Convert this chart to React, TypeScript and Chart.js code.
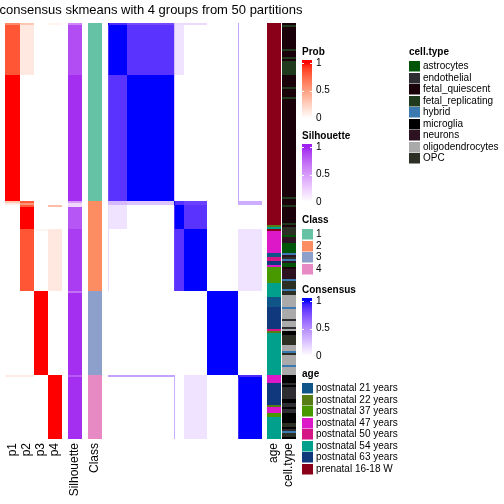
import React, { useEffect, useRef } from "react";
import { Chart, registerables } from "chart.js";

Chart.register(...registerables);

// ---------------- data ----------------
const TITLE = "consensus skmeans with 4 groups from 50 partitions";
const N_SAMPLES = 208;

const classLevels = ["1", "2", "3", "4"];
const classColors = ["#66C2A5", "#FC8D62", "#8DA0CB", "#E78AC3"];
const classSizes = [89, 45, 42, 32];

// [row count, probability] runs, top to bottom
const p1Runs: [number, number][] = [[1, 0.6], [25, 0.82], [63, 1], [1, 0.3], [1, 0.1], [12, 0], [31, 0], [42, 0], [1, 0.1], [31, 0]];
const p2Runs: [number, number][] = [[1, 0.3], [25, 0.12], [63, 0], [1, 0.8], [1, 0.55], [1, 0.8], [11, 1], [31, 0.82], [42, 0], [1, 0.1], [31, 0]];
const p3Runs: [number, number][] = [[103, 0], [1, 0.05], [30, 0], [42, 1], [32, 0]];
const p4Runs: [number, number][] = [[1, 0.06], [88, 0], [2, 0], [1, 0.35], [11, 0], [31, 0.12], [42, 0], [32, 1]];
const silhouetteRuns: [number, number][] = [[1, 0.6], [25, 0.86], [63, 0.96], [1, 0.5], [2, 0.2], [11, 0.82], [31, 0.92], [1, 0.7], [41, 0.96], [1, 0.8], [31, 0.96]];

// consensus: sub-group sizes (rows/cols in same order) and block values
const subgroupSizes = [1, 25, 63, 2, 12, 31, 42, 1, 31];
const consensus = [
  [1.0, 0.9, 0.78, 0.3, 0.15, 0.15, 0.0, 0.4, 0.0],
  [0.9, 1.0, 0.87, 0.3, 0.12, 0.0, 0.0, 0.4, 0.0],
  [0.78, 0.87, 1.0, 0.25, 0.0, 0.0, 0.0, 0.4, 0.0],
  [0.3, 0.3, 0.25, 1.0, 0.88, 0.82, 0.0, 0.4, 0.35],
  [0.15, 0.12, 0.0, 0.88, 1.0, 0.87, 0.0, 0.0, 0.0],
  [0.15, 0.0, 0.0, 0.82, 0.87, 1.0, 0.0, 0.12, 0.12],
  [0.0, 0.0, 0.0, 0.0, 0.0, 0.0, 1.0, 0.0, 0.0],
  [0.4, 0.4, 0.4, 0.4, 0.0, 0.12, 0.0, 1.0, 0.9],
  [0.0, 0.0, 0.0, 0.35, 0.0, 0.12, 0.0, 0.9, 1.0],
];

const ageLevels = [
  "postnatal 21 years",
  "postnatal 22 years",
  "postnatal 37 years",
  "postnatal 47 years",
  "postnatal 50 years",
  "postnatal 54 years",
  "postnatal 63 years",
  "prenatal 16-18 W",
];
const ageColors = ["#0F5587", "#557D14", "#489900", "#DD18C8", "#D51485", "#00A08C", "#0F387D", "#8B0019"];
// [row count, age level index]
const ageRuns: [number, number][] = [
  [101, 7], [1, 1], [1, 5], [1, 7], [11, 3], [2, 0], [2, 4], [2, 6], [1, 3], [8, 2], [7, 5],
  [5, 0], [11, 6], [1, 4], [1, 1], [21, 5], [4, 3], [11, 6], [1, 1], [3, 3], [2, 2], [11, 5],
];

const cellTypeLevels = [
  "astrocytes",
  "endothelial",
  "fetal_quiescent",
  "fetal_replicating",
  "hybrid",
  "microglia",
  "neurons",
  "oligodendrocytes",
  "OPC",
];
const cellTypeColors = ["#005508", "#2E2E32", "#1A0009", "#1F3A1C", "#3A7AB0", "#000000", "#2D1221", "#AAAAAA", "#2C3024"];
// [row count, cell type index]
const cellTypeRuns: [number, number][] = [
  [1, 2], [1, 3], [11, 2], [1, 3], [3, 2], [1, 3], [1, 2], [7, 3], [6, 2], [1, 3], [4, 2], [1, 3],
  [49, 2], [1, 3], [3, 2], [1, 3], [8, 2], [1, 3], [1, 2], [4, 8], [1, 0], [3, 6], [5, 0], [1, 4],
  [1, 6], [1, 8], [1, 4], [1, 6], [2, 0], [1, 2], [5, 6], [1, 4], [4, 8], [1, 4], [2, 8], [6, 7],
  [1, 4], [5, 7], [1, 1], [3, 7], [1, 1], [1, 7], [2, 5], [5, 8], [3, 7], [1, 4], [1, 8], [5, 7],
  [1, 4], [4, 7], [4, 5], [1, 1], [1, 5], [6, 1], [2, 5], [2, 1], [1, 5], [2, 1], [5, 5], [2, 8],
  [1, 5], [1, 1], [1, 4], [2, 8], [1, 5],
];

const leftLabels = ["p1", "p2", "p3", "p4", "Silhouette", "Class"];
const rightLabels = ["age", "cell.type"];
const legendTicks = [0, 0.5, 1];
const legendTickLabels = ["0", "0.5", "1"];

// ---------------- layout / style ----------------
const FONT = "'Liberation Sans', Arial, Helvetica, sans-serif";
const AREA = { left: 108, right: 262, top: 23, bottom: 439 };
const LEFT_COLS: [number, number][] = [[5, 20], [20, 34], [34, 48], [48, 62], [68, 82], [88, 102]];
const RIGHT_COLS: [number, number][] = [[267, 281], [282, 296]];

// ---------------- colours (LAB interpolation from white) ----------------
function hexToRgb(h: string): number[] {
  const s = h.replace("#", "");
  return [0, 2, 4].map((i) => parseInt(s.slice(i, i + 2), 16));
}
function toLin(c: number) {
  c /= 255;
  return c <= 0.04045 ? c / 12.92 : Math.pow((c + 0.055) / 1.055, 2.4);
}
function toSrgb(c: number) {
  const v = c <= 0.0031308 ? 12.92 * c : 1.055 * Math.pow(Math.max(c, 0), 1 / 2.4) - 0.055;
  return Math.round(Math.max(0, Math.min(1, v)) * 255);
}
function rgbToLab(rgb: number[]): number[] {
  const [R, G, B] = rgb.map(toLin);
  const X = (0.4124 * R + 0.3576 * G + 0.1805 * B) / 0.95047;
  const Y = 0.2126 * R + 0.7152 * G + 0.0722 * B;
  const Z = (0.0193 * R + 0.1192 * G + 0.9505 * B) / 1.08883;
  const f = (t: number) => (t > 0.008856 ? Math.cbrt(t) : 7.787 * t + 16 / 116);
  const fx = f(X), fy = f(Y), fz = f(Z);
  return [116 * fy - 16, 500 * (fx - fy), 200 * (fy - fz)];
}
function labToRgb(lab: number[]): number[] {
  const [L, a, b] = lab;
  const fy = (L + 16) / 116;
  const fx = fy + a / 500;
  const fz = fy - b / 200;
  const inv = (t: number) => (t * t * t > 0.008856 ? t * t * t : (t - 16 / 116) / 7.787);
  const X = 0.95047 * inv(fx), Y = inv(fy), Z = 1.08883 * inv(fz);
  const R = 3.2406 * X - 1.5372 * Y - 0.4986 * Z;
  const G = -0.9689 * X + 1.8758 * Y + 0.0415 * Z;
  const B = 0.0557 * X - 0.204 * Y + 1.057 * Z;
  return [toSrgb(R), toSrgb(G), toSrgb(B)];
}
function ramp(hex: string) {
  const l0 = rgbToLab([255, 255, 255]);
  const l1 = rgbToLab(hexToRgb(hex));
  return (v: number) => {
    const t = Math.max(0, Math.min(1, v));
    const c = labToRgb(l0.map((x, i) => x + (l1[i] - x) * t));
    return `rgb(${c[0]},${c[1]},${c[2]})`;
  };
}
const probColor = ramp("#FF0000");
const silColor = ramp("#A020F0");
const consColor = ramp("#0000FF");

// ---------------- drawing plugin ----------------
function cumsum(a: number[]) {
  const out = [0];
  a.forEach((v) => out.push(out[out.length - 1] + v));
  return out;
}

const heatmapPlugin = {
  id: "consensusHeatmap",
  afterDraw(chart: any) {
    const ctx: CanvasRenderingContext2D = chart.ctx;
    const xs = chart.scales.x;
    const ys = chart.scales.y;
    const py = (v: number) => Math.round(ys.getPixelForValue(v));
    const px = (v: number) => Math.round(xs.getPixelForValue(v));
    ctx.save();

    // consensus matrix
    const b = cumsum(subgroupSizes);
    for (let i = 0; i < subgroupSizes.length; i++) {
      for (let j = 0; j < subgroupSizes.length; j++) {
        const x0 = px(b[j]), x1 = px(b[j + 1]);
        const y0 = py(b[i]), y1 = py(b[i + 1]);
        ctx.fillStyle = consColor(consensus[i][j]);
        ctx.fillRect(x0, y0, x1 - x0, y1 - y0);
      }
    }

    const runCol = (runs: [number, number][], col: [number, number], color: (v: number) => string) => {
      let s = 0;
      for (const [n, v] of runs) {
        const y0 = py(s), y1 = py(s + n);
        ctx.fillStyle = color(v);
        ctx.fillRect(col[0], y0, col[1] - col[0], y1 - y0);
        s += n;
      }
    };
    [p1Runs, p2Runs, p3Runs, p4Runs].forEach((r, i) => runCol(r, LEFT_COLS[i], probColor));
    runCol(silhouetteRuns, LEFT_COLS[4], silColor);
    runCol(
      classSizes.map((n, i) => [n, i] as [number, number]),
      LEFT_COLS[5],
      (v) => classColors[v]
    );
    runCol(ageRuns, RIGHT_COLS[0], (v) => ageColors[v]);
    runCol(cellTypeRuns, RIGHT_COLS[1], (v) => cellTypeColors[v]);

    // title
    ctx.fillStyle = "#000";
    ctx.font = `13px ${FONT}`;
    ctx.textAlign = "center";
    ctx.textBaseline = "middle";
    ctx.fillText(TITLE, 151, 10);

    // column labels (rotated)
    ctx.font = `12px ${FONT}`;
    const rotLabel = (text: string, col: [number, number]) => {
      ctx.save();
      ctx.translate((col[0] + col[1]) / 2, AREA.bottom + 4);
      ctx.rotate(-Math.PI / 2);
      ctx.textAlign = "right";
      ctx.textBaseline = "middle";
      ctx.fillText(text, 0, 0);
      ctx.restore();
    };
    leftLabels.forEach((t, i) => rotLabel(t, LEFT_COLS[i]));
    rightLabels.forEach((t, i) => rotLabel(t, RIGHT_COLS[i]));

    // legends
    const LX = 302;
    const gradLegend = (title: string, top: number, color: (v: number) => string) => {
      ctx.fillStyle = "#000";
      ctx.font = `bold 10px ${FONT}`;
      ctx.textAlign = "left";
      ctx.textBaseline = "middle";
      ctx.fillText(title, LX, top);
      const yOf = (v: number) => top + 66 - 55 * v;
      const g = ctx.createLinearGradient(0, yOf(1), 0, yOf(0));
      for (let k = 0; k <= 20; k++) g.addColorStop(k / 20, color(1 - k / 20));
      ctx.fillStyle = g;
      ctx.fillRect(LX, top + 8, 10, yOf(0) - (top + 8));
      ctx.strokeStyle = "#fff";
      ctx.lineWidth = 1;
      legendTicks.forEach((v) => {
        if (v <= 0) return;
        const y = Math.round(yOf(v)) + 0.5;
        ctx.beginPath();
        ctx.moveTo(LX, y);
        ctx.lineTo(LX + 2, y);
        ctx.moveTo(LX + 8, y);
        ctx.lineTo(LX + 10, y);
        ctx.stroke();
      });
      ctx.fillStyle = "#000";
      ctx.font = `10px ${FONT}`;
      legendTicks.forEach((v, i) => ctx.fillText(legendTickLabels[i], LX + 14, yOf(v)));
    };
    const discLegend = (title: string, x: number, top: number, labels: string[], colors: string[]) => {
      ctx.fillStyle = "#000";
      ctx.font = `bold 10px ${FONT}`;
      ctx.textAlign = "left";
      ctx.textBaseline = "middle";
      ctx.fillText(title, x, top);
      labels.forEach((lab, i) => {
        const y = top + 9 + i * 11.5;
        ctx.fillStyle = colors[i];
        ctx.fillRect(x, Math.round(y), 11, 10.5);
        ctx.fillStyle = "#000";
        ctx.font = `10px ${FONT}`;
        ctx.fillText(lab, x + 14, y + 5.5);
      });
    };
    gradLegend("Prob", 52, probColor);
    gradLegend("Silhouette", 136, silColor);
    discLegend("Class", LX, 220, classLevels, classColors);
    gradLegend("Consensus", 290, consColor);
    discLegend("age", LX, 374, ageLevels, ageColors);
    discLegend("cell.type", 409, 52, cellTypeLevels, cellTypeColors);

    ctx.restore();
  },
};

export default function App() {
  const ref = useRef<HTMLCanvasElement | null>(null);
  useEffect(() => {
    if (!ref.current) return;
    const chart = new Chart(ref.current, {
      type: "scatter",
      data: { datasets: [{ data: [] }] },
      options: {
        animation: false,
        responsive: false,
        devicePixelRatio: 1,
        events: [],
        layout: {
          padding: { left: AREA.left, right: 504 - AREA.right, top: AREA.top, bottom: 504 - AREA.bottom },
        },
        scales: {
          x: { type: "linear", min: 0, max: N_SAMPLES, display: false },
          y: { type: "linear", min: 0, max: N_SAMPLES, reverse: true, display: false },
        },
        plugins: { legend: { display: false }, tooltip: { enabled: false }, title: { display: false } },
      },
      plugins: [heatmapPlugin],
    } as any);
    return () => chart.destroy();
  }, []);
  return (
    <div style={{ position: "absolute", left: 0, top: 0, width: 504, height: 504, background: "#fff" }}>
      <canvas ref={ref} width={504} height={504} style={{ display: "block" }} />
    </div>
  );
}
